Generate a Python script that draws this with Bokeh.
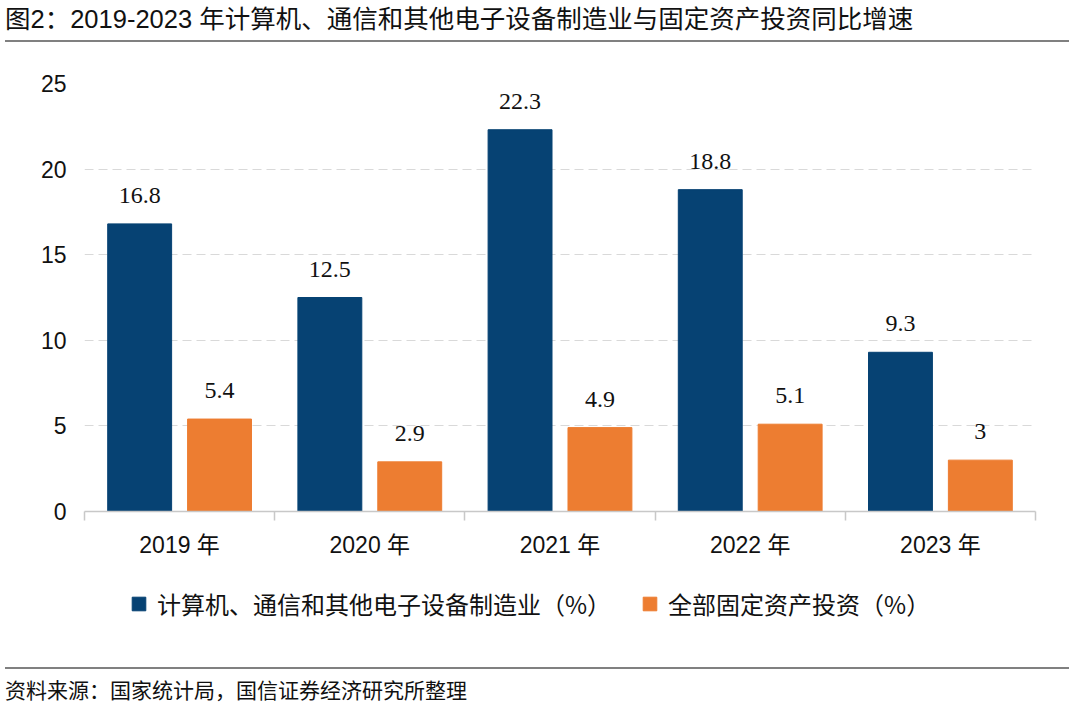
from bokeh.plotting import figure
from bokeh.models import (ColumnDataSource, Range1d, LinearAxis, FixedTicker,
                          LabelSet, Legend, LegendItem, Div)
from bokeh.layouts import column
from bokeh.transform import dodge
from bokeh.embed import file_html
from bokeh.resources import INLINE

# ---------------- data ----------------
years = ["2019 年", "2020 年", "2021 年", "2022 年", "2023 年"]
electronics = [16.8, 12.5, 22.3, 18.8, 9.3]
fixed_asset = [5.4, 2.9, 4.9, 5.1, 3.0]
electronics_labels = ["16.8", "12.5", "22.3", "18.8", "9.3"]
fixed_asset_labels = ["5.4", "2.9", "4.9", "5.1", "3"]
y_ticks = [0, 5, 10, 15, 20, 25]
series_names = ["计算机、通信和其他电子设备制造业（%）", "全部固定资产投资（%）"]
title_text = "图2：2019-2023 年计算机、通信和其他电子设备制造业与固定资产投资同比增速"
source_text = "资料来源：国家统计局，国信证券经济研究所整理"

# ---------------- styles ----------------
NAVY = "#064273"
ORANGE = "#ED7D31"
SANS = "Liberation Sans, Noto Sans CJK SC"
SERIF = "Liberation Serif"
CJK = "Noto Sans CJK SC"

n = len(years)
centers = [i + 0.5 for i in range(n)]          # category slot centres
src = ColumnDataSource(dict(xc=centers, a=electronics, b=fixed_asset,
                            la=electronics_labels, lb=fixed_asset_labels))

p = figure(width=1064, height=526, x_range=Range1d(0, n),
           y_range=Range1d(0, y_ticks[-1]), x_axis_type=None,
           output_backend="svg", toolbar_location=None,
           min_border_left=84, min_border_right=29, min_border_top=36, min_border_bottom=62)
p.outline_line_color = None
p.background_fill_color = "white"
p.border_fill_color = "white"

# y axis
p.yaxis.ticker = FixedTicker(ticks=y_ticks)
p.yaxis.axis_line_color = None
p.yaxis.major_tick_line_color = None
p.yaxis.minor_tick_line_color = None
p.yaxis.major_label_text_font = SANS
p.yaxis.major_label_text_font_size = "23px"
p.yaxis.major_label_text_color = "#111111"
p.yaxis.major_label_standoff = 12

p.xgrid.grid_line_color = None
p.ygrid.grid_line_color = "#D9D9D9"
p.ygrid.grid_line_dash = "9 5"
p.ygrid.grid_line_width = 1.2

# x axis: labels at slot centres, tick marks at slot boundaries
xaxis = LinearAxis(ticker=FixedTicker(ticks=centers, minor_ticks=list(range(n + 1))),
                   major_label_overrides={c: y for c, y in zip(centers, years)})
xaxis.axis_line_color = "#C8C8C8"
xaxis.axis_line_width = 1.5
xaxis.major_tick_line_color = None
xaxis.minor_tick_line_color = "#C8C8C8"
xaxis.minor_tick_line_width = 1.5
xaxis.minor_tick_in = 0
xaxis.minor_tick_out = 9
xaxis.major_tick_in = 0
xaxis.major_tick_out = 0
xaxis.major_label_standoff = 11
xaxis.major_label_text_font = SANS
xaxis.major_label_text_font_size = "23px"
xaxis.major_label_text_color = "#111111"
p.add_layout(xaxis, "below")

# bars
r1 = p.vbar(x=dodge("xc", -0.21), top="a", width=0.336,
            source=src, fill_color=NAVY, line_color=NAVY)
r2 = p.vbar(x=dodge("xc", 0.21), top="b", width=0.336,
            source=src, fill_color=ORANGE, line_color=ORANGE)

# value labels
for col, lab, off in (("a", "la", -0.21), ("b", "lb", 0.21)):
    ls = LabelSet(x=dodge("xc", off), y=col, text=lab, source=src,
                  y_offset=21, text_align="center", text_baseline="alphabetic",
                  text_font=SERIF, text_font_size="24px", text_color="#111111")
    p.add_layout(ls)

# legend strip (separate small figure so the legend is not clipped);
# its swatch renderers reuse the bar data, placed outside the strip's visible range
lf = figure(width=1064, height=89, x_range=Range1d(100, 101), y_range=Range1d(100, 101),
            x_axis_type=None, y_axis_type=None, output_backend="svg",
            toolbar_location=None, min_border=0)
lf.outline_line_color = None
lf.xgrid.grid_line_color = None
lf.ygrid.grid_line_color = None
lr1 = lf.vbar(x="xc", top="a", width=0.1, source=src, fill_color=NAVY, line_color=NAVY)
lr2 = lf.vbar(x="xc", top="b", width=0.1, source=src, fill_color=ORANGE, line_color=ORANGE)
legend = Legend(items=[LegendItem(label=series_names[0], renderers=[lr1]),
                       LegendItem(label=series_names[1], renderers=[lr2])],
                orientation="horizontal", location=(46, 41),
                glyph_width=17, glyph_height=17, label_standoff=10, spacing=30,
                label_text_font=CJK, label_text_font_size="24px", label_text_color="#111111",
                border_line_color=None, background_fill_alpha=0, padding=0, margin=0)
lf.add_layout(legend)

title_div = Div(text=(f'<div style="box-sizing:border-box;width:1064px;height:37px;'
                      f'border-bottom:2px solid #808080;font-family:{SANS};font-size:25.5px;'
                      f'line-height:28px;color:#111;white-space:nowrap;">{title_text}</div>'),
                width=1064, height=37)
source_div = Div(text=(f'<div style="box-sizing:border-box;width:1064px;height:36px;'
                       f'border-top:2px solid #808080;padding-top:11px;font-family:{SANS};'
                       f'font-size:21px;line-height:21px;color:#111;white-space:nowrap;">'
                       f'{source_text}</div>'),
                 width=1064, height=36)

layout = column(title_div, p, lf, source_div, spacing=0)
open("out.html", "w").write(file_html(layout, INLINE))
